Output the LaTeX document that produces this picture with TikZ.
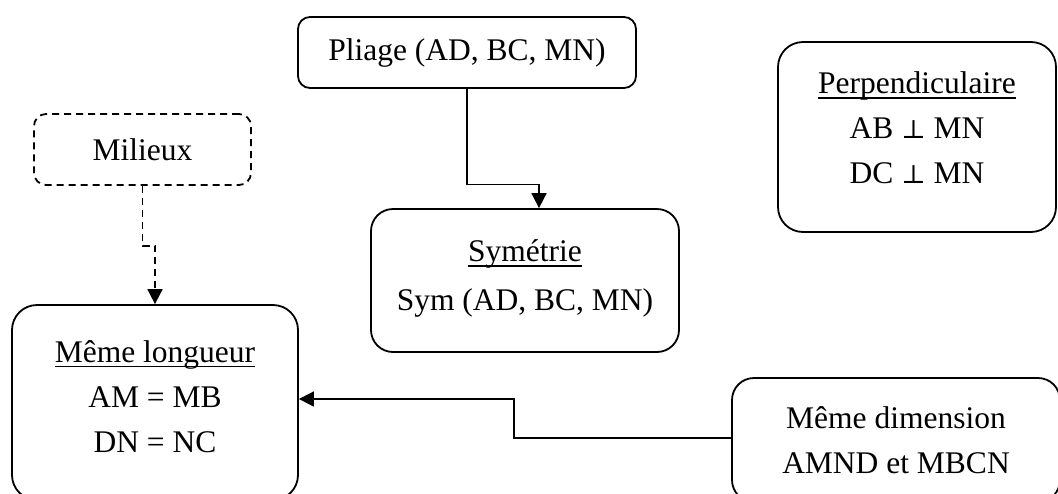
\documentclass[tikz,border=0pt]{standalone}
\usepackage{fontspec}
\setmainfont{Liberation Serif}
\newfontfamily\perpfont{DejaVu Serif}
\usepackage{tikz}
\usetikzlibrary{positioning, arrows.meta}
\newcommand{\souligne}[1]{\setbox0\hbox{#1}\rlap{\rule[-5pt]{\wd0}{1.6pt}}\box0}
\newcommand{\orth}{{\perpfont\fontsize{26}{44}\selectfont ⊥}}
\newcommand{\pied}[1]{\rule[-#1]{0pt}{#1}}

\begin{document}
\begin{tikzpicture}[x=1pt, y=-1pt,
    box/.style={draw, line width=1.8pt, align=center, inner sep=0pt,
      font=\fontsize{31.5}{45}\selectfont},
    arr/.style={line width=1.8pt, -{Triangle[length=15pt, width=15pt]}}]
  \useasboundingbox (0,0) rectangle (1058,493);

  \node[box, rounded corners=12pt, minimum width=338pt, minimum height=71pt]
    (pliage) at (467,52.5) {Pliage (AD, BC, MN)};
  \node[box, rounded corners=22pt, minimum width=308pt, minimum height=143pt]
    (sym) at (525,280.5) {\souligne{Symétrie}\\[4pt]Sym (AD, BC, MN)\pied{10pt}};
  \node[box, dashed, dash pattern=on 7pt off 5pt, rounded corners=12pt,
        minimum width=217pt, minimum height=71pt]
    (milieux) at (142.5,149.5) {Milieux};
  \node[box, rounded corners=25pt, minimum width=278pt, minimum height=190pt]
    (perp) at (917,137) {\souligne{Perpendiculaire}\\AB \orth{} MN\\DC \orth{} MN\pied{18pt}};
  \node[box, rounded corners=25pt, minimum width=286pt, minimum height=195pt]
    (longueur) at (155,402.5) {\souligne{Même longueur}\\AM = MB\\DN = NC\pied{12pt}};
  \node[box, rounded corners=22pt, minimum width=328pt, minimum height=124pt]
    (dimension) at (896,440) {Même dimension\\AMND et MBCN};

  % liens
  \draw[arr] (pliage.south) -- ++(0,95.5) -| ([xshift=14pt]sym.north);
  \draw[arr, dash pattern=on 7pt off 5pt] (milieux.south) -- ++(0,60) -| (longueur.north);
  \draw[arr] ([yshift=2pt]dimension.west) -- ++(-217,0) |- ([yshift=3.5pt]longueur.east);
\end{tikzpicture}
\end{document}
